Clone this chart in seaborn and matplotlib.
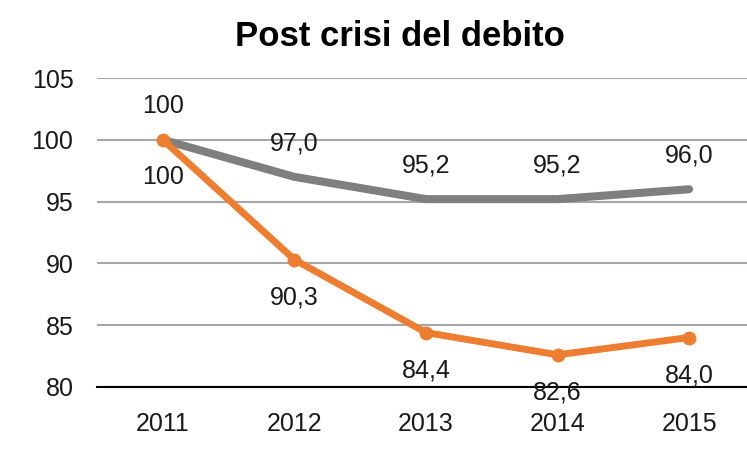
import pandas as pd
import matplotlib.pyplot as plt
import seaborn as sns

# Data
years = ['2011', '2012', '2013', '2014', '2015']
serie_grigia = [100, 97.0, 95.2, 95.2, 96.0]
serie_arancio = [100, 90.3, 84.4, 82.6, 84.0]
label_grigia = ['100', '97,0', '95,2', '95,2', '96,0']
label_arancio = ['100', '90,3', '84,4', '82,6', '84,0']

sns.set_style('white')
plt.rcParams['font.family'] = ['Liberation Sans', 'DejaVu Sans']

fig = plt.figure(figsize=(7.47, 4.59), dpi=100)
ax = fig.add_axes([0.13, 0.157, 0.87, 0.673])

df = pd.DataFrame({'Anno': years + years,
                   'Valore': serie_grigia + serie_arancio,
                   'Serie': ['grigia'] * 5 + ['arancio'] * 5})

sns.lineplot(data=df[df['Serie'] == 'grigia'], x='Anno', y='Valore',
             color='#7f7f7f', linewidth=5.8, solid_capstyle='round',
             solid_joinstyle='round', ax=ax, zorder=3)
sns.lineplot(data=df[df['Serie'] == 'arancio'], x='Anno', y='Valore',
             color='#ed7d31', linewidth=5, marker='o', markersize=10,
             markeredgewidth=0, solid_joinstyle='round', ax=ax, zorder=4)

# Data labels
for i, (v, t) in enumerate(zip(serie_grigia, label_grigia)):
    ax.annotate(t, (i, v), xytext=(0, 24), textcoords='offset points',
                ha='center', va='center', fontsize=18, color='#1a1a1a')
for i, (v, t) in enumerate(zip(serie_arancio, label_arancio)):
    ax.annotate(t, (i, v), xytext=(0, -27), textcoords='offset points',
                ha='center', va='center', fontsize=18, color='#1a1a1a')

ax.set_ylim(80, 105)
ax.set_yticks([80, 85, 90, 95, 100, 105])
ax.set_xlim(-0.5, 4.44)
ax.yaxis.grid(True, color='#a6a6a6', linewidth=1.5)
ax.set_axisbelow(True)
for s in ['top', 'right', 'left']:
    ax.spines[s].set_visible(False)
ax.spines['bottom'].set_color('black')
ax.spines['bottom'].set_linewidth(1.5)
ax.spines['bottom'].set_zorder(2)
ax.tick_params(axis='both', length=0, labelsize=18, colors='#1a1a1a')
ax.tick_params(axis='y', pad=17)
ax.tick_params(axis='x', pad=18)
ax.set_xlabel('')
ax.set_ylabel('')

fig.text(0.535, 0.92, 'Post crisi del debito', ha='center', va='center',
         fontsize=25, fontweight='bold', color='black')

fig.savefig('out.png', dpi=100)
